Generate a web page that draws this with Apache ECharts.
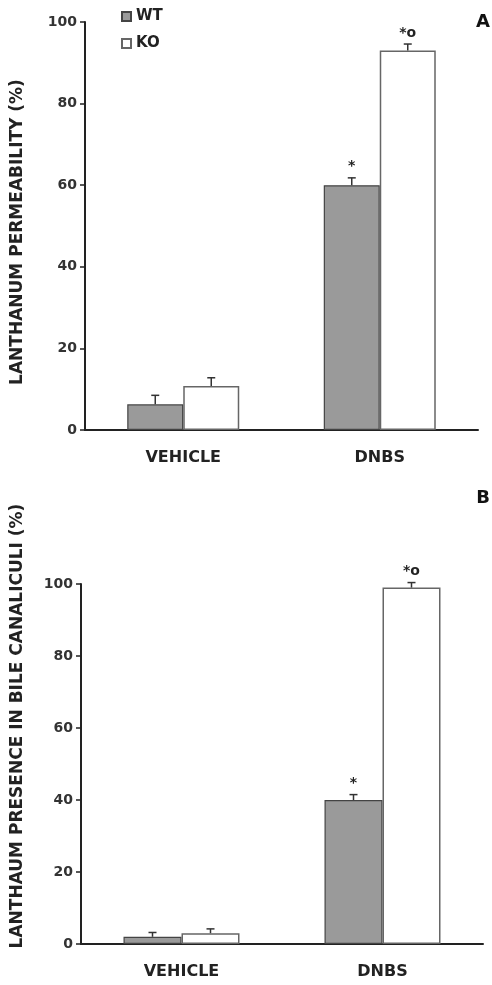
<!DOCTYPE html>
<html>
<head>
<meta charset="utf-8">
<script src="https://cdn.jsdelivr.net/npm/echarts@6/dist/echarts.min.js"></script>
<style>
  html, body { margin: 0; padding: 0; background: #fff; }
  #chart { width: 492px; height: 985px; }
</style>
</head>
<body>
<div id="chart"></div>
<script>
// data
const categories = ["VEHICLE", "DNBS"];
const yTicks = [0, 20, 40, 60, 80, 100];

// panel A: lanthanum permeability (%)
const permWT = [6.3, 60];
const permWTErr = [2.2, 1.8];
const permKO = [10.8, 93];
const permKOErr = [2.0, 1.6];
const permWTMark = ["", "*"];
const permKOMark = ["", "*o"];

// panel B: lanthanum presence in bile canaliculi (%)
const presWT = [2, 40];
const presWTErr = [1.2, 1.5];
const presKO = [3, 99];
const presKOErr = [1.2, 1.4];
const presWTMark = ["", "*"];
const presKOMark = ["", "*o"];

const font = "DejaVu Sans";
const colWT = "#9a9a9a";
const axisColor = "#222";

// error bar (upward only) + significance mark drawn above each bar
function errSeries(name, vals, errs, marks, gridIdx, offset) {
  return {
    type: "custom",
    name: name + "_err",
    xAxisIndex: gridIdx,
    yAxisIndex: gridIdx,
    z: 5,
    silent: true,
    data: vals.map((v, i) => [i, v, errs[i]]),
    renderItem: (params, api) => {
      const base = api.coord([api.value(0), api.value(1)]);
      const top = api.coord([api.value(0), api.value(1) + api.value(2)]);
      const x = base[0] + offset;
      const st = { stroke: "#333", lineWidth: 1.5 };
      return {
        type: "group",
        children: [
          { type: "line", shape: { x1: x, y1: base[1], x2: x, y2: top[1] }, style: st },
          { type: "line", shape: { x1: x - 4, y1: top[1], x2: x + 4, y2: top[1] }, style: st },
          {
            type: "text",
            style: {
              x: x, y: top[1] - 4,
              text: marks[params.dataIndex],
              fill: "#222",
              font: "bold 14px " + font,
              textAlign: "center",
              textVerticalAlign: "bottom",
            },
          },
        ],
      };
    },
  };
}

const yAxisCommon = {
  type: "value",
  min: 0,
  max: 100,
  interval: 20,
  axisLine: { show: true, lineStyle: { color: axisColor, width: 2 } },
  axisTick: { show: true, length: 5, lineStyle: { color: axisColor, width: 1.5 } },
  axisLabel: { color: "#333", fontFamily: font, fontWeight: "bold", fontSize: 14, margin: 8,
    formatter: (v) => (yTicks.includes(v) ? String(v) : "") },
  splitLine: { show: false },
};
const xAxisCommon = {
  type: "category",
  data: categories,
  axisLine: { show: true, lineStyle: { color: axisColor, width: 2 } },
  axisTick: { show: false },
  axisLabel: { color: "#222", fontFamily: font, fontWeight: "bold", fontSize: 16, margin: 20 },
};

const barA = 56;
const barB = 58;

const option = {
  animation: false,
  backgroundColor: "#fff",
  grid: [
    { left: 85, right: 14, top: 22, height: 408 },
    { left: 81, right: 9, top: 584, height: 360 },
  ],
  xAxis: [
    { ...xAxisCommon, gridIndex: 0 },
    { ...xAxisCommon, gridIndex: 1 },
  ],
  yAxis: [
    { ...yAxisCommon, gridIndex: 0 },
    { ...yAxisCommon, gridIndex: 1 },
  ],
  legend: {
    data: ["WT", "KO"],
    orient: "vertical",
    left: 116,
    top: 4,
    itemWidth: 9,
    itemHeight: 9,
    itemGap: 12,
    icon: "rect",
    textStyle: { fontFamily: font, fontWeight: "bold", fontSize: 15, color: "#222" },
  },
  series: [
    { type: "bar", name: "WT", data: permWT, xAxisIndex: 0, yAxisIndex: 0, barWidth: barA, barGap: "0%",
      itemStyle: { color: colWT, borderColor: "#444", borderWidth: 1.2 } },
    { type: "bar", name: "KO", data: permKO, xAxisIndex: 0, yAxisIndex: 0, barWidth: barA, barGap: "0%",
      itemStyle: { color: "#fff", borderColor: "#666", borderWidth: 1.5 } },
    { type: "bar", name: "WT", data: presWT, xAxisIndex: 1, yAxisIndex: 1, barWidth: barB, barGap: "0%",
      itemStyle: { color: colWT, borderColor: "#444", borderWidth: 1.2 } },
    { type: "bar", name: "KO", data: presKO, xAxisIndex: 1, yAxisIndex: 1, barWidth: barB, barGap: "0%",
      itemStyle: { color: "#fff", borderColor: "#666", borderWidth: 1.5 } },
    errSeries("permWT", permWT, permWTErr, permWTMark, 0, -barA / 2),
    errSeries("permKO", permKO, permKOErr, permKOMark, 0, barA / 2),
    errSeries("presWT", presWT, presWTErr, presWTMark, 1, -barB / 2),
    errSeries("presKO", presKO, presKOErr, presKOMark, 1, barB / 2),
  ],
  graphic: [
    { type: "text", x: 18, y: 232, rotation: Math.PI / 2,
      style: { text: "LANTHANUM PERMEABILITY (%)", font: "bold 17px " + font, fill: "#222",
        textAlign: "center", textVerticalAlign: "middle" } },
    { type: "text", x: 18, y: 726, rotation: Math.PI / 2,
      style: { text: "LANTHAUM PRESENCE IN BILE CANALICULI (%)", font: "bold 17px " + font, fill: "#222",
        textAlign: "center", textVerticalAlign: "middle" } },
    { type: "text", x: 483, y: 22,
      style: { text: "A", font: "bold 18px " + font, fill: "#111", textAlign: "center", textVerticalAlign: "middle" } },
    { type: "text", x: 483, y: 498,
      style: { text: "B", font: "bold 18px " + font, fill: "#111", textAlign: "center", textVerticalAlign: "middle" } },
  ],
};

const chart = echarts.init(document.getElementById("chart"), null, { renderer: "canvas" });
chart.setOption(option);
</script>
</body>
</html>
